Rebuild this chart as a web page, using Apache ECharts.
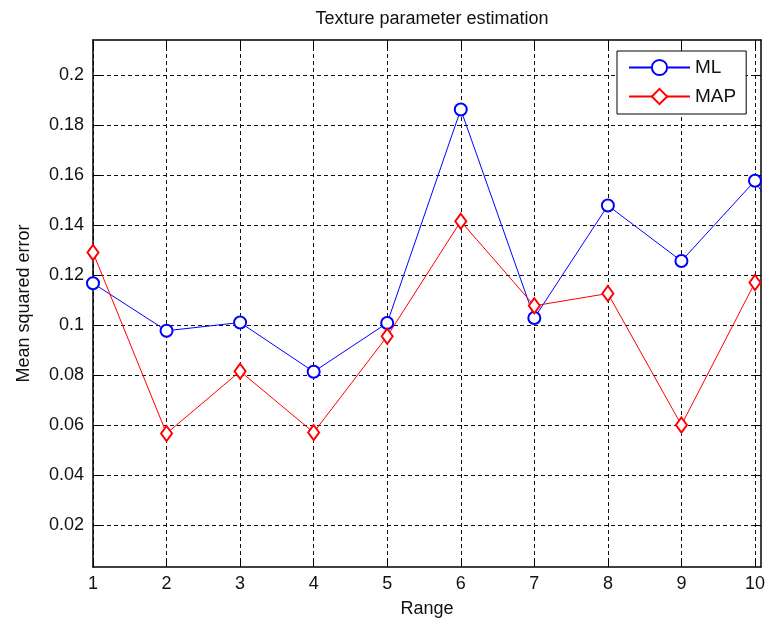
<!DOCTYPE html>
<html>
<head>
<meta charset="utf-8">
<script src="https://cdn.jsdelivr.net/npm/echarts@6/dist/echarts.min.js"></script>
<style>html,body{margin:0;padding:0;background:#fff;}#c{width:768px;height:628px;}</style>
</head>
<body>
<div id="c"></div>
<script>
var ranges = [1, 2, 3, 4, 5, 6, 7, 8, 9, 10, 11];
var mlValues = [0.1167, 0.0977, 0.101, 0.0813, 0.1008, 0.1862, 0.1028, 0.1478, 0.1256, 0.1577, 0.109];
var mapValues = [0.129, 0.0566, 0.0815, 0.057, 0.0955, 0.1415, 0.1077, 0.1126, 0.060, 0.117];
var xTicks = [1, 2, 3, 4, 5, 6, 7, 8, 9, 10];
var yTicks = [0.02, 0.04, 0.06, 0.08, 0.1, 0.12, 0.14, 0.16, 0.18, 0.2];
var seriesNames = ['ML', 'MAP'];
var titleText = 'Texture parameter estimation';
var xName = 'Range';
var yName = 'Mean squared error';

function pairs(vals) { return vals.map(function (v, i) { return [ranges[i], v]; }); }

var FONT = '"Liberation Sans", Arial, sans-serif';
var chart = echarts.init(document.getElementById('c'), null, { renderer: 'canvas' });
var splitStyle = { show: true, lineStyle: { color: '#111', width: 1, type: [4, 3] } };
var axisLineStyle = { show: true, lineStyle: { color: '#000', width: 1.5 } };

chart.setOption({
  backgroundColor: '#fff',
  animation: false,
  title: {
    text: titleText, left: 427, textAlign: 'center', top: 5,
    textStyle: { fontFamily: FONT, fontSize: 18, fontWeight: 'normal', color: '#111' }
  },
  legend: {
    orient: 'vertical', left: 617, top: 51,
    padding: [7, 10, 8, 11], itemGap: 10, itemWidth: 61, itemHeight: 19,
    borderColor: '#000', borderWidth: 1, backgroundColor: '#fff',
    textStyle: { fontFamily: FONT, fontSize: 19, color: '#111' },
    data: seriesNames
  },
  grid: { left: 93, right: 7, top: 40, bottom: 61, containLabel: false },
  xAxis: [{
    type: 'value', min: 1, max: 10.08, position: 'bottom',
    name: xName, nameLocation: 'middle', nameGap: 33,
    nameTextStyle: { fontFamily: FONT, fontSize: 18, color: '#111' },
    axisLine: axisLineStyle,
    axisTick: { show: true, inside: true, length: 9, customValues: xTicks, lineStyle: { color: '#000' } },
    axisLabel: { customValues: xTicks, margin: 8, fontFamily: FONT, fontSize: 18, color: '#111' },
    splitLine: splitStyle
  }, {
    type: 'value', min: 1, max: 10.08, position: 'top',
    axisLine: axisLineStyle,
    axisTick: { show: true, inside: true, length: 9, customValues: xTicks, lineStyle: { color: '#000' } },
    axisLabel: { show: false },
    splitLine: { show: false }
  }],
  yAxis: [{
    type: 'value', min: 0.0032, max: 0.214, position: 'left',
    name: yName, nameLocation: 'middle', nameGap: 60,
    nameTextStyle: { fontFamily: FONT, fontSize: 18, color: '#111' },
    axisLine: axisLineStyle,
    axisTick: { show: true, inside: true, length: 8, customValues: yTicks, lineStyle: { color: '#000' } },
    axisLabel: { customValues: yTicks, margin: 9, fontFamily: FONT, fontSize: 18, color: '#111' },
    splitLine: splitStyle
  }, {
    type: 'value', min: 0.0032, max: 0.214, position: 'right',
    axisLine: axisLineStyle,
    axisTick: { show: true, inside: true, length: 8, customValues: yTicks, lineStyle: { color: '#000' } },
    axisLabel: { show: false },
    splitLine: { show: false }
  }],
  series: [{
    name: seriesNames[0], type: 'line', xAxisIndex: 0, yAxisIndex: 0,
    data: pairs(mlValues), clip: true,
    symbol: 'emptyCircle', symbolSize: 12,
    lineStyle: { color: '#0000ff', width: 1 },
    itemStyle: { color: '#0000ff', borderColor: '#0000ff', borderWidth: 1 }
  }, {
    name: seriesNames[1], type: 'line', xAxisIndex: 0, yAxisIndex: 0,
    data: pairs(mapValues), clip: true,
    symbol: 'emptyDiamond', symbolSize: [11, 15],
    lineStyle: { color: '#ff0000', width: 1 },
    itemStyle: { color: '#ff0000', borderColor: '#ff0000', borderWidth: 1 }
  }]
});
</script>
</body>
</html>
